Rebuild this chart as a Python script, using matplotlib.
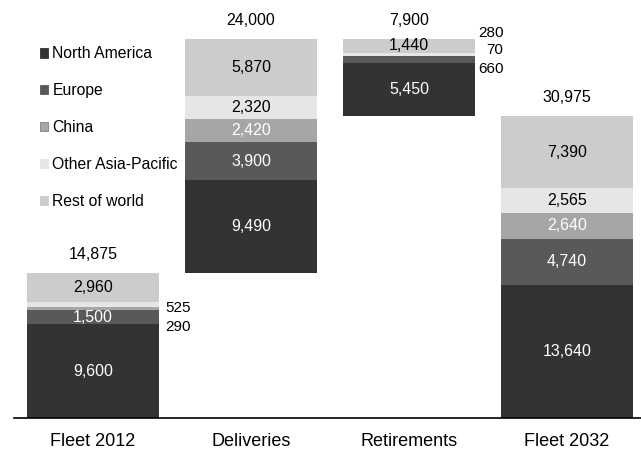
import matplotlib.pyplot as plt
from matplotlib.patches import Patch

plt.rcParams['font.family'] = ['Liberation Sans', 'DejaVu Sans']

# Aircraft fleet by region, 2012 -> 2032
stages = ['Fleet 2012', 'Deliveries', 'Retirements', 'Fleet 2032']
regions = ['North America', 'Europe', 'China', 'Other Asia-Pacific', 'Rest of world']
fleet_2012 = [9600, 1500, 290, 525, 2960]
deliveries = [9490, 3900, 2420, 2320, 5870]
retirements = [5450, 660, 70, 280, 1440]
fleet_2032 = [13640, 4740, 2640, 2565, 7390]

colors = ['#333333', '#595959', '#a6a6a6', '#e6e6e6', '#cccccc']
text_colors = ['white', 'white', 'white', 'black', 'black']

# small segments get their label beside the bar: (stage, region) -> (dx px, dy px, ha)
outside = {
    (0, 3): (7, -4, 'left'), (0, 2): (7, -19, 'left'),
    (2, 3): (29, 21, 'right'), (2, 2): (29, 6, 'right'), (2, 1): (29, -9, 'right'),
}

series = [fleet_2012, deliveries, retirements, fleet_2032]
totals = [sum(s) for s in series]
bases = [0, totals[0], totals[0] + totals[1] - totals[2], 0]

fig = plt.figure(figsize=(6.41, 4.5), dpi=100)
ax = fig.add_axes([14 / 641, 32 / 450, 627 / 641, 418 / 450])

width = 0.83
for i, vals in enumerate(series):
    bottom = bases[i]
    for j, v in enumerate(vals):
        ax.bar(i, v, width, bottom=bottom, color=colors[j], linewidth=0)
        mid = bottom + v / 2
        if (i, j) in outside:
            dx, dy, ha = outside[(i, j)]
            ax.annotate(f'{v:,}', (i + width / 2, mid), xytext=(dx * 0.72, dy * 0.72),
                        textcoords='offset points', ha=ha, va='center', fontsize=11,
                        color='black')
        else:
            ax.text(i, mid, f'{v:,}', ha='center', va='center', fontsize=11.5,
                    color=text_colors[j])
        bottom += v
    ax.annotate(f'{totals[i]:,}', (i, bases[i] + totals[i]), xytext=(0, 13.5),
                textcoords='offset points', ha='center', va='center', fontsize=11.5)

ax.set_xlim(-0.5, 3.468)
ax.set_ylim(0, 42870)
ax.set_xticks(range(len(stages)))
ax.set_xticklabels(stages, fontsize=13)
ax.tick_params(axis='x', length=0, pad=11)
ax.set_yticks([])
for side in ['top', 'right', 'left']:
    ax.spines[side].set_visible(False)
ax.spines['bottom'].set_linewidth(1.2)

handles = [Patch(facecolor=c, edgecolor='#7f7f7f' if c == '#a6a6a6' else c, linewidth=0.6)
           for c in colors]
ax.legend(handles, regions, loc='upper left', bbox_to_anchor=(26 / 627, 1 - 46.5 / 418),
          frameon=False, fontsize=11.3, handlelength=0.54, handleheight=0.54,
          handletextpad=0.25, labelspacing=1.39, borderaxespad=0, borderpad=0)

fig.savefig('out.png', dpi=100)
